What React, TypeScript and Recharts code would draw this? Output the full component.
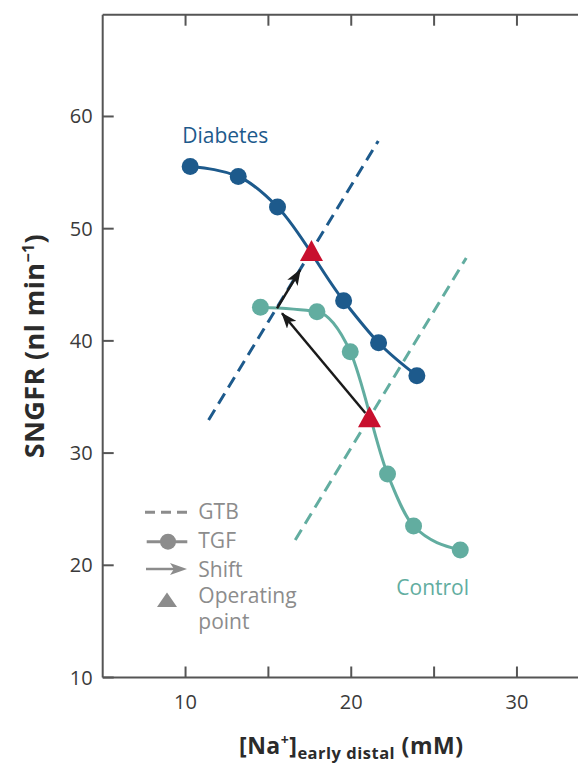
import React from 'react';
import { ComposedChart, Line, Scatter, XAxis, YAxis, Legend, Label, ReferenceLine } from 'recharts';

const FONT = "'Open Sans', 'Noto Sans', sans-serif";
const AXIS = '#555555';
const TEXT = '#3a3a3a';
const LABEL = '#2b2b2b';
const BLUE = '#1d5a8c';
const TEAL = '#62ada0';
const RED = '#c8102e';
const GRAY = '#8c8c8c';
const BLACK = '#1a1a1a';

const xDomain = [5, 35];
const yDomain = [10, 69.07];
const xTicks = [5, 10, 15, 20, 25, 30, 35];
const xInnerTicks = [10, 15, 20, 25, 30];
const xTickLabels = [10, 20, 30];
const yTicks = [10, 20, 30, 40, 50, 60];
const yInnerTicks = [20, 30, 40, 50, 60];

const diabetesTGF = [
  { x: 10.28, y: 55.54 },
  { x: 13.18, y: 54.65 },
  { x: 15.55, y: 51.93 },
  { x: 19.54, y: 43.58 },
  { x: 21.65, y: 39.84 },
  { x: 23.96, y: 36.9 },
];
const controlTGF = [
  { x: 14.52, y: 43.0 },
  { x: 17.93, y: 42.6 },
  { x: 19.94, y: 39.04 },
  { x: 22.19, y: 28.13 },
  { x: 23.76, y: 23.5 },
  { x: 26.58, y: 21.36 },
];
const diabetesGTB = [
  { x: 11.39, y: 32.95 },
  { x: 21.63, y: 57.82 },
];
const controlGTB = [
  { x: 16.62, y: 22.25 },
  { x: 26.94, y: 47.39 },
];
const operatingPoints = [
  { x: 17.6, y: 48.0 },
  { x: 21.1, y: 33.2 },
];
const shiftLong = [
  { x: 20.85, y: 33.57 },
  { x: 15.82, y: 42.46 },
];
const shiftShort = [
  { x: 15.52, y: 42.9 },
  { x: 16.92, y: 46.32 },
];
const legendItems = ['GTB', 'TGF', 'Shift', 'Operating', 'point'];
const seriesNames = ['Diabetes', 'Control'];

const CHART_W = 640;
const CHART_H = 756;
const MARGIN = { top: 5.7, right: 47.2, bottom: 36.5, left: 34.7 };
const TOP_H = 1;
const RIGHT_W = 1;
const LEFT_W = 60;
const BOTTOM_H = 50;
const PLOT_W = CHART_W - MARGIN.left - LEFT_W - MARGIN.right - RIGHT_W;
const PLOT_H = CHART_H - MARGIN.top - TOP_H - MARGIN.bottom - BOTTOM_H;
// inward tick lengths (px) expressed in axis units for the top / right frame ticks
const TOP_TICK_LEN = (11 * (yDomain[1] - yDomain[0])) / PLOT_H;
const RIGHT_TICK_LEN = (16 * (xDomain[1] - xDomain[0])) / PLOT_W;

const bottomTick = (p: any) => {
  const v = p.payload.value;
  if (v <= xDomain[0] || v >= xDomain[1]) return <g />;
  return (
    <g>
      <line x1={p.x} x2={p.x} y1={p.y} y2={p.y - 11} stroke={AXIS} strokeWidth={2} />
      {xTickLabels.includes(v) ? (
        <text x={p.x} y={p.y + 31} textAnchor="middle" fontSize={20} fill={TEXT} fontFamily={FONT}>
          {v}
        </text>
      ) : null}
    </g>
  );
};
const leftTick = (p: any) => {
  const v = p.payload.value;
  return (
    <g>
      <line x1={p.x} x2={p.x + 11} y1={p.y} y2={p.y} stroke={AXIS} strokeWidth={2} />
      <text x={p.x - 10} y={p.y + 7} textAnchor="end" fontSize={20} fill={TEXT} fontFamily={FONT}>
        {v}
      </text>
    </g>
  );
};

const xLabel = (p: any) => {
  const vb = p.viewBox;
  const cx = vb.x + vb.width / 2;
  const y = vb.y + 76.5;
  return (
    <text x={cx} y={y} textAnchor="middle" fontFamily={FONT} fontWeight={700} fontSize={23} letterSpacing={0.5} fill={LABEL}>
      [Na
      <tspan dy={-9} fontSize={14}>+</tspan>
      <tspan dy={9}>]</tspan>
      <tspan dy={5} fontSize={16.5}>early distal</tspan>
      <tspan dy={-5}> (mM)</tspan>
    </text>
  );
};
const yLabel = (p: any) => {
  const vb = p.viewBox;
  const cx = vb.x - 7.2;
  const cy = vb.y + vb.height / 2;
  return (
    <g transform={`translate(${cx},${cy}) rotate(-90)`}>
      <text x={0} y={8.5} textAnchor="middle" fontFamily={FONT} fontWeight={700} fontSize={27} letterSpacing={0.4} fill={LABEL}>
        SNGFR (nl min
        <tspan dy={-10} fontSize={16}>−1</tspan>
        <tspan dy={10}>)</tspan>
      </text>
    </g>
  );
};

const pt = (p: any) => ({
  x: p.x ?? (p.viewBox ? p.viewBox.x : 0),
  y: p.y ?? (p.viewBox ? p.viewBox.y : 0),
});
const diabetesLabel = (p: any) => {
  if (p.index !== 0) return null;
  const { x, y } = pt(p);
  return (
    <text x={x - 8} y={y - 24} fontSize={21} fill={BLUE} fontFamily={FONT}>
      {seriesNames[0]}
    </text>
  );
};
const controlLabel = (p: any) => {
  if (p.index !== controlTGF.length - 1) return null;
  const { x, y } = pt(p);
  return (
    <text x={x - 64} y={y + 45} fontSize={21} fill={TEAL} fontFamily={FONT}>
      {seriesNames[1]}
    </text>
  );
};

const triangle = (p: any) => {
  const { cx, cy } = p;
  if (cx == null || cy == null) return <g />;
  return <polygon points={`${cx},${cy - 11} ${cx - 11.5},${cy + 10} ${cx + 11.5},${cy + 10}`} fill={RED} />;
};

const legendContent = () => (
  <svg width={180} height={145} style={{ display: 'block' }}>
    <line x1={5} x2={47} y1={17.3} y2={17.3} stroke={GRAY} strokeWidth={3} strokeDasharray="10 6" />
    <line x1={6.7} x2={47.3} y1={46.7} y2={46.7} stroke={GRAY} strokeWidth={3} />
    <circle cx={28} cy={46.7} r={8} fill={GRAY} />
    <line x1={6} x2={36} y1={74} y2={74} stroke={GRAY} strokeWidth={2.5} />
    <polygon points="47,74 30,68 34,74 30,80" fill={GRAY} />
    <polygon points="27,97.5 17,112 37,112" fill={GRAY} />
    {legendItems.map((t, i) => (
      <text key={t} x={58.3} y={[24.3, 53.3, 82.3, 108.3, 134][i]} fontSize={21} fill={GRAY} fontFamily={FONT}>
        {t}
      </text>
    ))}
  </svg>
);

export default function App() {
  return (
    <div style={{ width: 578, height: 756, overflow: 'hidden', position: 'relative' }}>
      <svg width={0} height={0} style={{ position: 'absolute' }}>
        <defs>
          <marker id="arrowBlack" viewBox="0 0 16 12" refX={15} refY={6} markerWidth={16} markerHeight={12} markerUnits="userSpaceOnUse" orient="auto">
            <path d="M0,0 L16,6 L0,12 L4,6 Z" fill={BLACK} />
          </marker>
        </defs>
      </svg>
      <ComposedChart width={CHART_W} height={CHART_H} margin={MARGIN}>
        <XAxis dataKey="x" type="number" domain={xDomain} ticks={xTicks} interval={0} tickSize={0} tickMargin={0} tickLine={false} axisLine={{ stroke: AXIS, strokeWidth: 2 }} height={BOTTOM_H} tick={bottomTick} allowDataOverflow>
          <Label content={xLabel} />
        </XAxis>
        <XAxis xAxisId="top" orientation="top" dataKey="x" type="number" domain={xDomain} ticks={xTicks} tickLine={false} tick={false} axisLine={{ stroke: AXIS, strokeWidth: 2 }} height={TOP_H} allowDataOverflow />
        <YAxis dataKey="y" type="number" domain={yDomain} ticks={yTicks} interval={0} tickSize={0} tickMargin={0} tickLine={false} axisLine={{ stroke: AXIS, strokeWidth: 2 }} width={LEFT_W} tick={leftTick} allowDataOverflow>
          <Label content={yLabel} />
        </YAxis>
        <YAxis yAxisId="right" orientation="right" dataKey="y" type="number" domain={yDomain} ticks={yTicks} tickLine={false} tick={false} axisLine={{ stroke: AXIS, strokeWidth: 2 }} width={RIGHT_W} allowDataOverflow />
        {xInnerTicks.map((v) => (
          <ReferenceLine
            key={`tt${v}`}
            segment={[
              { x: v, y: yDomain[1] },
              { x: v, y: yDomain[1] - TOP_TICK_LEN },
            ]}
            stroke={AXIS}
            strokeWidth={2}
            ifOverflow="visible"
          />
        ))}
        {yInnerTicks.map((v) => (
          <ReferenceLine
            key={`rt${v}`}
            segment={[
              { x: xDomain[1], y: v },
              { x: xDomain[1] - RIGHT_TICK_LEN, y: v },
            ]}
            stroke={AXIS}
            strokeWidth={2}
            ifOverflow="visible"
          />
        ))}
        <Legend layout="vertical" align="center" verticalAlign="middle" content={legendContent} wrapperStyle={{ left: 132, top: 487, width: 180, height: 145 }} />
        <Line data={diabetesGTB} dataKey="y" type="linear" stroke={BLUE} strokeWidth={3} strokeDasharray="12 7" dot={false} activeDot={false} isAnimationActive={false} legendType="none" />
        <Line data={controlGTB} xAxisId="top" yAxisId="right" dataKey="y" type="linear" stroke={TEAL} strokeWidth={3} strokeDasharray="12 7" dot={false} activeDot={false} isAnimationActive={false} legendType="none" />
        <Line data={controlTGF} dataKey="y" type="monotone" stroke={TEAL} strokeWidth={3} dot={{ r: 8.5, fill: TEAL, stroke: 'none' }} activeDot={false} label={controlLabel} isAnimationActive={false} legendType="none" />
        <Line data={diabetesTGF} dataKey="y" type="monotone" stroke={BLUE} strokeWidth={3} dot={{ r: 8.5, fill: BLUE, stroke: 'none' }} activeDot={false} label={diabetesLabel} isAnimationActive={false} legendType="none" />
        <Line data={shiftLong} dataKey="y" type="linear" stroke={BLACK} strokeWidth={2.5} dot={false} activeDot={false} markerEnd="url(#arrowBlack)" isAnimationActive={false} legendType="none" />
        <Line data={shiftShort} dataKey="y" type="linear" stroke={BLACK} strokeWidth={2.5} dot={false} activeDot={false} markerEnd="url(#arrowBlack)" isAnimationActive={false} legendType="none" />
        <Scatter data={operatingPoints} fill={RED} shape={triangle} isAnimationActive={false} legendType="none" />
      </ComposedChart>
    </div>
  );
}
